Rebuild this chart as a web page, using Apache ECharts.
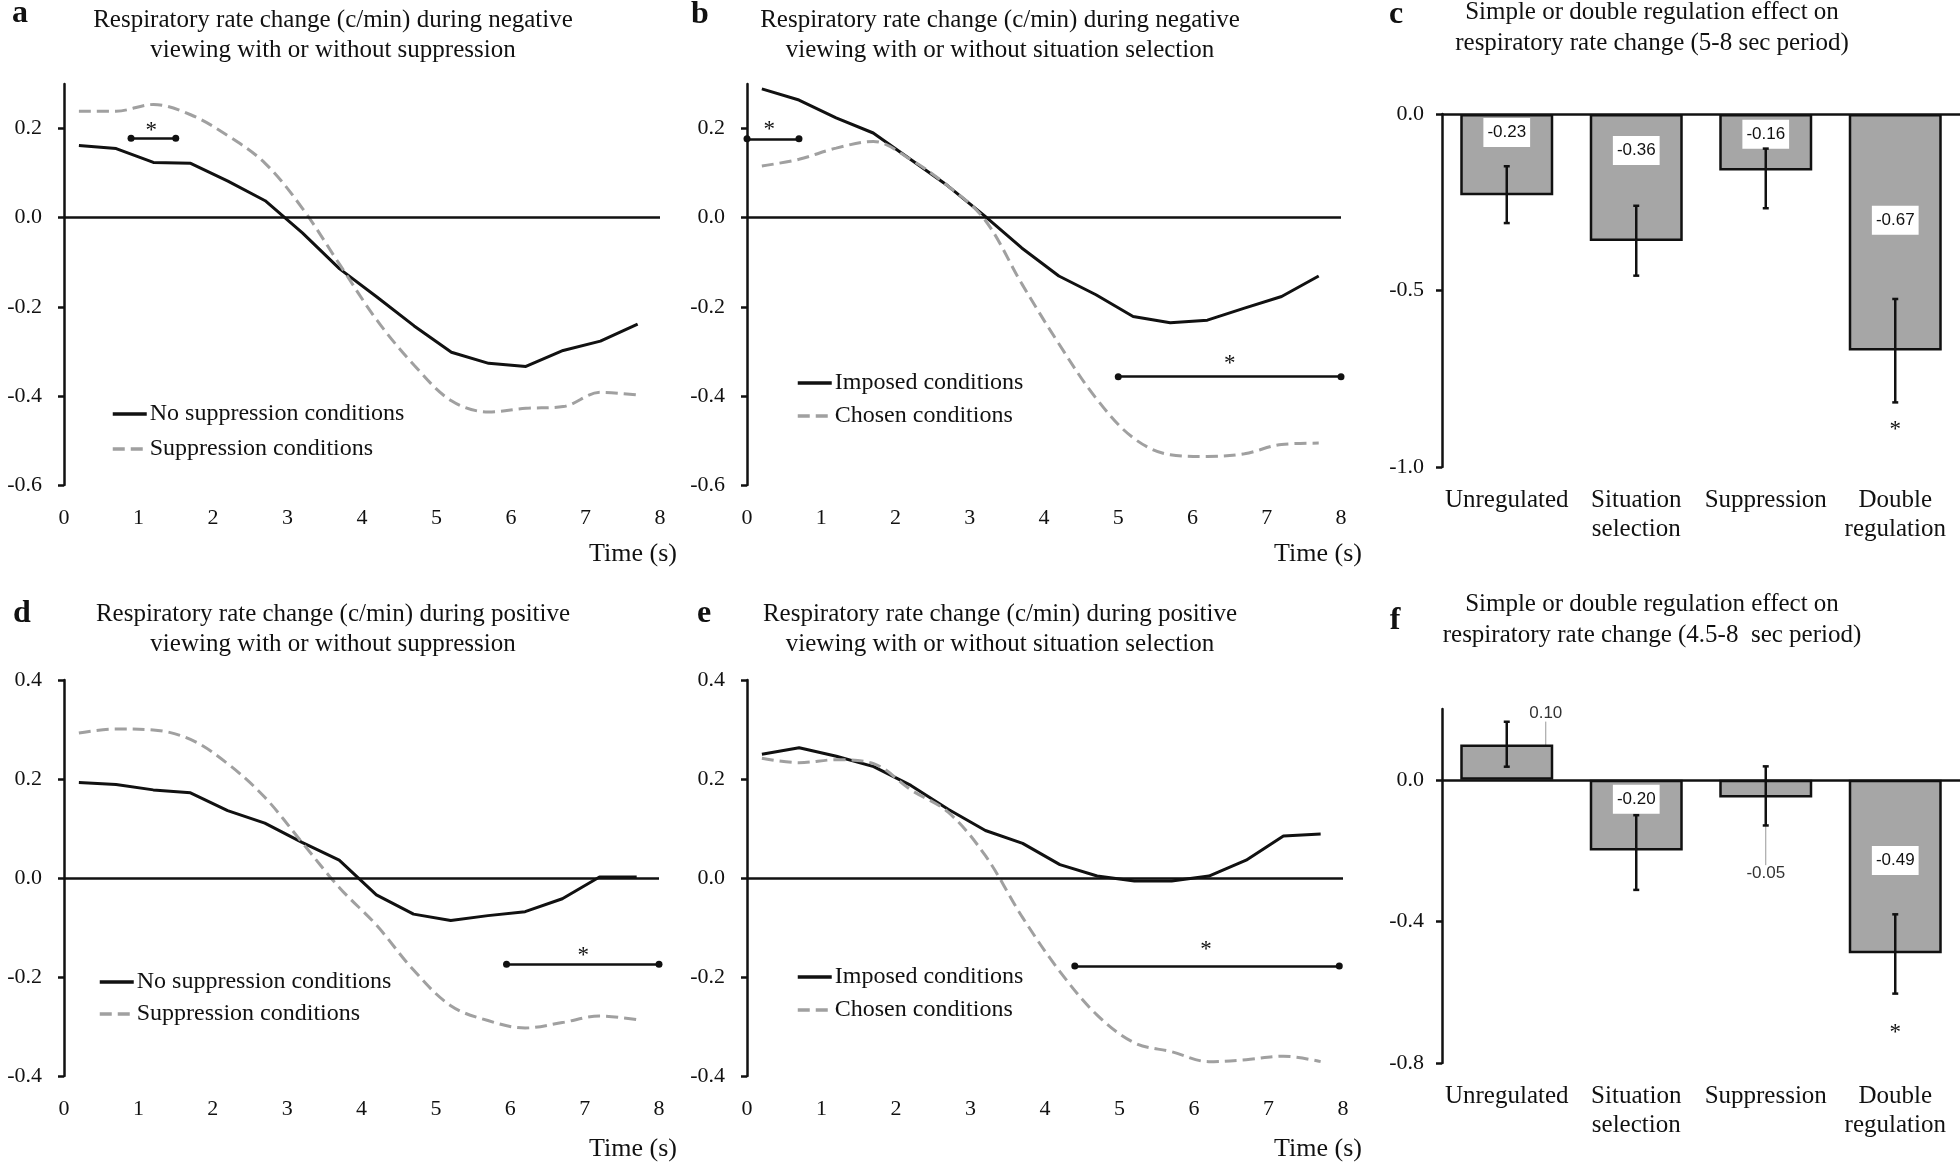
<!DOCTYPE html>
<html>
<head>
<meta charset="utf-8">
<script src="https://cdn.jsdelivr.net/npm/echarts@6/dist/echarts.min.js"></script>
<style>
html, body { margin: 0; padding: 0; background: #fff; }
#main { width: 1960px; height: 1167px; }
</style>
</head>
<body>
<div id="main"></div>
<script>
// time points (s)
var times = [0.2, 0.7, 1.2, 1.7, 2.2, 2.7, 3.2, 3.7, 4.2, 4.7, 5.2, 5.7, 6.2, 6.7, 7.2, 7.7];

// a - negative, suppression
var negNoSupp = [0.162, 0.155, 0.124, 0.122, 0.082, 0.038, -0.034, -0.115, -0.178, -0.243, -0.302, -0.327, -0.334, -0.298, -0.277, -0.239];
var negSupp = [0.239, 0.239, 0.254, 0.231, 0.184, 0.122, 0.021, -0.105, -0.230, -0.331, -0.411, -0.436, -0.428, -0.424, -0.392, -0.398];
// b - negative, situation selection
var negImposed = [0.289, 0.264, 0.224, 0.190, 0.131, 0.072, 0.004, -0.068, -0.131, -0.173, -0.222, -0.236, -0.230, -0.203, -0.177, -0.131];
var negChosen = [0.116, 0.131, 0.156, 0.171, 0.131, 0.072, -0.004, -0.148, -0.283, -0.405, -0.494, -0.532, -0.536, -0.530, -0.509, -0.506];
// d - positive, suppression
var posNoSupp = [0.193, 0.189, 0.178, 0.172, 0.136, 0.111, 0.072, 0.036, -0.034, -0.073, -0.086, -0.076, -0.068, -0.042, 0.002, 0.002];
var posSupp = [0.293, 0.301, 0.299, 0.280, 0.231, 0.163, 0.072, -0.019, -0.095, -0.186, -0.258, -0.288, -0.303, -0.292, -0.279, -0.286];
// e - positive, situation selection
var posImposed = [0.250, 0.263, 0.246, 0.225, 0.187, 0.139, 0.096, 0.070, 0.027, 0.004, -0.006, -0.006, 0.004, 0.036, 0.085, 0.089];
var posChosen = [0.242, 0.233, 0.239, 0.231, 0.178, 0.133, 0.045, -0.080, -0.189, -0.277, -0.333, -0.351, -0.371, -0.367, -0.360, -0.371];

// significance intervals [from, to, y] and asterisks [x, y]
var sigA = [[0.9, 1.5, 0.178]];
var starA = [[1.17, 0.205]];
var sigB = [[0, 0.7, 0.177], [5.0, 8.0, -0.357]];
var starB = [[0.3, 0.207], [6.5, -0.318]];
var sigD = [[5.95, 8.0, -0.174]];
var starD = [[6.98, -0.148]];
var sigE = [[4.4, 7.95, -0.178]];
var starE = [[6.16, -0.136]];

// c / f - bar panels
var barCats = ['Unregulated', 'Situation\nselection', 'Suppression', 'Double\nregulation'];
var negMeans = [-0.23, -0.36, -0.16, -0.67];
var negErrHigh = [-0.148, -0.260, -0.098, -0.524];
var negErrLow = [-0.309, -0.458, -0.267, -0.817];
var posMeans = [0.10, -0.20, -0.05, -0.49];
var posErrHigh = [0.164, -0.100, 0.038, -0.380];
var posErrLow = [0.037, -0.311, -0.129, -0.604];
var starC = [[3, -0.88]];
var starF = [[3, -0.70]];

var serif = '"Liberation Serif", "Times New Roman", serif';
var ink = '#111';
var grey = '#a0a0a0';

var myChart = echarts.init(document.getElementById('main'));

function pairs(vals) {
    var res = [];
    for (var i = 0; i < vals.length; i++) {
        res.push([times[i], vals[i]]);
    }
    return res;
}

function starPoints(stars) {
    return {
        silent: true,
        symbol: 'rect',
        symbolSize: 1,
        itemStyle: { color: 'transparent' },
        label: { show: true, position: 'inside', formatter: '*', fontSize: 23, fontFamily: serif, color: ink, offset: [0, 5] },
        data: stars.map(function (s) { return { coord: s }; })
    };
}

function linePanel(idx, solid, dashed, names, sig, stars) {
    return [
        {
            name: names[0], type: 'line', xAxisIndex: idx, yAxisIndex: idx,
            data: pairs(solid), symbol: 'none', smooth: false,
            lineStyle: { color: ink, width: 3 }, itemStyle: { color: ink },
            markLine: {
                silent: true, symbol: 'none', label: { show: false },
                lineStyle: { color: ink, width: 2.5, type: 'solid' },
                data: [{ yAxis: 0 }]
            }
        },
        {
            name: names[1], type: 'line', xAxisIndex: idx, yAxisIndex: idx,
            data: pairs(dashed), symbol: 'none', smooth: 0.35,
            lineStyle: { color: grey, width: 3, type: [12, 6] }, itemStyle: { color: grey },
            markLine: {
                silent: true, symbol: ['circle', 'circle'], symbolSize: 7, label: { show: false },
                lineStyle: { color: ink, width: 2.5, type: 'solid' }, itemStyle: { color: ink },
                data: sig.map(function (s) { return [{ coord: [s[0], s[2]] }, { coord: [s[1], s[2]] }]; })
            },
            markPoint: starPoints(stars)
        }
    ];
}

function errSeries(idx, hi, lo) {
    return {
        type: 'custom', xAxisIndex: idx, yAxisIndex: idx, silent: true, z: 4,
        data: hi.map(function (h, i) { return [i, h, lo[i]]; }),
        renderItem: function (params, api) {
            var p1 = api.coord([api.value(0), api.value(1)]);
            var p2 = api.coord([api.value(0), api.value(2)]);
            var st = { stroke: ink, lineWidth: 2.5 };
            return {
                type: 'group', children: [
                    { type: 'line', shape: { x1: p1[0], y1: p1[1], x2: p2[0], y2: p2[1] }, style: st },
                    { type: 'line', shape: { x1: p1[0] - 3, y1: p1[1], x2: p1[0] + 3, y2: p1[1] }, style: st },
                    { type: 'line', shape: { x1: p2[0] - 3, y1: p2[1], x2: p2[0] + 3, y2: p2[1] }, style: st }
                ]
            };
        }
    };
}

var boxLabel = {
    show: true, position: 'inside', backgroundColor: '#fff', padding: [6, 4],
    fontSize: 17, fontFamily: '"Liberation Sans Narrow", "Liberation Sans", sans-serif', color: ink,
    formatter: function (p) { return p.value.toFixed(2); }
};
var plainLabel = {
    show: true, position: 'inside', backgroundColor: 'transparent', padding: 0,
    fontSize: 17, fontFamily: '"Liberation Sans Narrow", "Liberation Sans", sans-serif', color: '#333',
    formatter: function (p) { return p.value.toFixed(2); }
};

function barPanel(idx, means, boxed, shift, stars) {
    return {
        type: 'bar', xAxisIndex: idx, yAxisIndex: idx, barWidth: 93, z: 2,
        data: means.map(function (v, i) {
            return {
                value: v,
                label: boxed[i] ? boxLabel : plainLabel,
                labelLine: { show: !boxed[i], lineStyle: { color: '#999', width: 1 } }
            };
        }),
        itemStyle: { color: '#a6a6a6', borderColor: ink, borderWidth: 2.5 },
        labelLayout: function (p) {
            return { dx: shift[p.dataIndex][0], dy: shift[p.dataIndex][1] };
        },
        markLine: {
            silent: true, symbol: 'none', label: { show: false },
            lineStyle: { color: ink, width: 2.5, type: 'solid' },
            data: [{ yAxis: 0 }]
        },
        markPoint: starPoints(stars)
    };
}

function lineX(i) {
    return {
        type: 'value', gridIndex: i, min: 0, max: 8, interval: 1,
        axisLine: { show: false, onZero: false }, axisTick: { show: false }, splitLine: { show: false },
        axisLabel: { margin: 22, fontSize: 22, color: ink, fontFamily: serif }
    };
}

function barX(i) {
    return {
        type: 'category', gridIndex: i, data: barCats,
        axisLine: { show: false, onZero: false }, axisTick: { show: false }, splitLine: { show: false },
        axisLabel: { margin: 19, fontSize: 25, lineHeight: 29, color: ink, fontFamily: serif, interval: 0 }
    };
}

function valY(i, min, max, ticks, margin) {
    return {
        type: 'value', gridIndex: i, min: min, max: max,
        axisLine: { show: true, onZero: false, lineStyle: { color: ink, width: 2.5 } },
        axisTick: { show: true, length: 6, customValues: ticks, lineStyle: { color: ink, width: 2.5 } },
        splitLine: { show: false },
        axisLabel: {
            customValues: ticks, margin: margin, fontSize: 22, color: ink, fontFamily: serif,
            formatter: function (v) { return v.toFixed(1); }
        }
    };
}

function legendAt(left, top, names, gap) {
    return {
        orient: 'vertical', left: left, top: top, data: names, padding: 0,
        itemWidth: 34, itemHeight: 14, itemGap: gap, selectedMode: false,
        itemStyle: { opacity: 0 },
        lineStyle: { width: 3.5 },
        textStyle: { fontSize: 24, color: ink, fontFamily: serif, padding: [0, 0, 0, -2] }
    };
}

function txt(x, y, text, size, bold, lh) {
    return {
        type: 'text', x: x, y: y, silent: true,
        style: {
            text: text, fill: ink, textAlign: 'center', textVerticalAlign: 'middle',
            font: (bold ? 'bold ' : '') + size + 'px ' + serif, lineHeight: lh || 30
        }
    };
}

var suppNames = ['No suppression conditions', 'Suppression conditions'];
var selNames = ['Imposed conditions', 'Chosen conditions'];

option = {
    backgroundColor: '#fff',
    animation: false,
    textStyle: { fontFamily: serif },
    grid: [
        { left: 64, top: 84, width: 596, height: 401 },
        { left: 747, top: 84, width: 594, height: 401 },
        { left: 1442, top: 114, width: 518, height: 353 },
        { left: 64, top: 680, width: 595, height: 396 },
        { left: 747, top: 680, width: 596, height: 396 },
        { left: 1442, top: 709, width: 518, height: 354 }
    ],
    xAxis: [lineX(0), lineX(1), barX(2), lineX(3), lineX(4), barX(5)],
    yAxis: [
        valY(0, -0.6, 0.3, [-0.6, -0.4, -0.2, 0, 0.2], 22),
        valY(1, -0.6, 0.3, [-0.6, -0.4, -0.2, 0, 0.2], 22),
        valY(2, -1.0, 0, [-1.0, -0.5, 0], 18),
        valY(3, -0.4, 0.4, [-0.4, -0.2, 0, 0.2, 0.4], 22),
        valY(4, -0.4, 0.4, [-0.4, -0.2, 0, 0.2, 0.4], 22),
        valY(5, -0.8, 0.2, [-0.8, -0.4, 0], 18)
    ],
    legend: [
        legendAt(111, 402, suppNames, 11),
        legendAt(796, 371, selNames, 9),
        legendAt(98, 970, suppNames, 8),
        legendAt(796, 965, selNames, 9)
    ],
    graphic: [
        txt(333, 35, 'Respiratory rate change (c/min) during negative\nviewing with or without suppression', 25),
        txt(1000, 35, 'Respiratory rate change (c/min) during negative\nviewing with or without situation selection', 25),
        txt(1652, 28, 'Simple or double regulation effect on\nrespiratory rate change (5-8 sec period)', 25, false, 31),
        txt(333, 629, 'Respiratory rate change (c/min) during positive\nviewing with or without suppression', 25),
        txt(1000, 629, 'Respiratory rate change (c/min) during positive\nviewing with or without situation selection', 25),
        txt(1652, 620, 'Simple or double regulation effect on\nrespiratory rate change (4.5-8  sec period)', 25, false, 31),
        txt(20, 14, 'a', 32, true),
        txt(700, 15, 'b', 32, true),
        txt(1396, 15, 'c', 32, true),
        txt(22, 614, 'd', 32, true),
        txt(704, 614, 'e', 32, true),
        txt(1395, 621, 'f', 32, true),
        txt(633, 554, 'Time (s)', 26),
        txt(1318, 554, 'Time (s)', 26),
        txt(633, 1149, 'Time (s)', 26),
        txt(1318, 1149, 'Time (s)', 26)
    ],
    series: [].concat(
        linePanel(0, negNoSupp, negSupp, suppNames, sigA, starA),
        linePanel(1, negImposed, negChosen, selNames, sigB, starB),
        [barPanel(2, negMeans, [true, true, true, true], [[0, -22], [0, -27], [0, -8], [0, -12]], starC),
         errSeries(2, negErrHigh, negErrLow)],
        linePanel(3, posNoSupp, posSupp, suppNames, sigD, starD),
        linePanel(4, posImposed, posChosen, selNames, sigE, starE),
        [barPanel(5, posMeans, [false, true, false, true], [[39, -49], [0, -16], [0, 85], [0, -6]], starF),
         errSeries(5, posErrHigh, posErrLow)]
    )
};

if (option && typeof option === "object") {
    myChart.setOption(option, true);
}
</script>
</body>
</html>
